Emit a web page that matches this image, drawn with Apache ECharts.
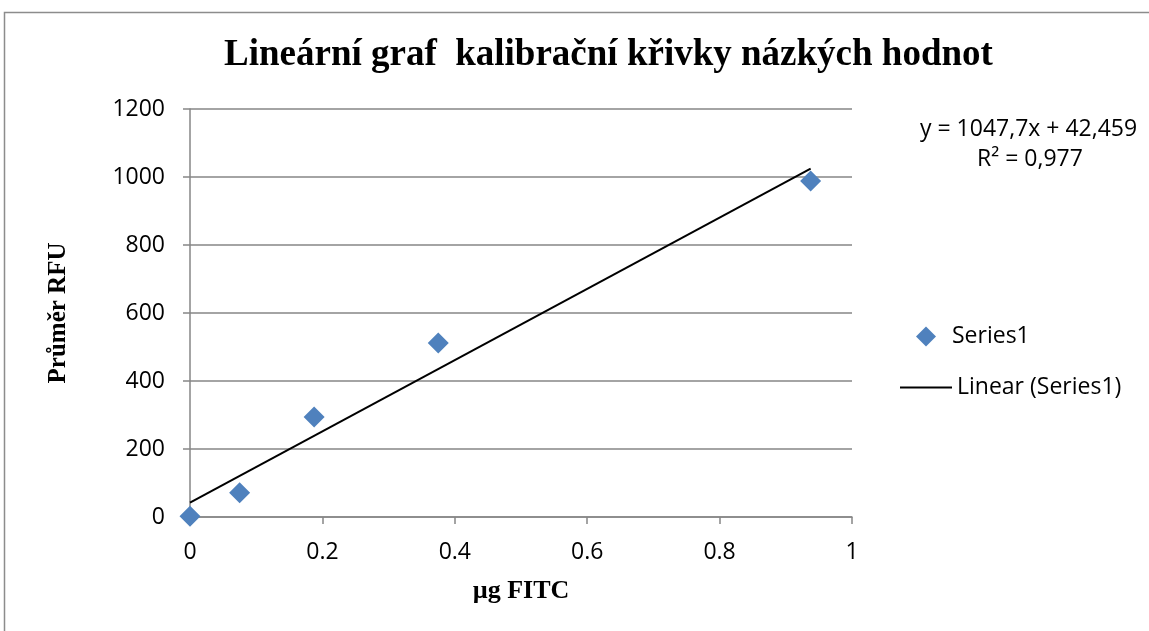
<!DOCTYPE html>
<html>
<head>
<meta charset="utf-8">
<script src="https://cdn.jsdelivr.net/npm/echarts@6/dist/echarts.min.js"></script>
<style>
  html, body { margin: 0; padding: 0; background: #fff; }
  #main { width: 1149px; height: 631px; }
</style>
</head>
<body>
<div id="main"></div>
<script>
// naměřené body
var xValues = [0, 0.075, 0.1875, 0.375, 0.9375];
var yValues = [2, 71, 294, 512, 988];
// lineární trend (z rovnice y = 1047,7x + 42,459)
var trendX = [0, 0.9375];
var trendY = [42.459, 1024.7];
var xTicks = [0, 0.2, 0.4, 0.6, 0.8, 1];
var yTicks = [0, 200, 400, 600, 800, 1000, 1200];

var pointData = [];
for (var i = 0; i < xValues.length; i++) {
    pointData.push([xValues[i], yValues[i]]);
}
var trendData = [];
for (var j = 0; j < trendX.length; j++) {
    trendData.push([trendX[j], trendY[j]]);
}

var chart = echarts.init(document.getElementById('main'));
var labelFont = '"Open Sans", sans-serif';
var serifFont = '"Liberation Serif", "DejaVu Serif", serif';

var option = {
    backgroundColor: '#fff',
    animation: false,
    title: {
        text: 'Lineární graf  kalibrační křivky názkých hodnot',
        left: 219,
        top: 32,
        textStyle: {
            fontFamily: serifFont,
            fontWeight: 'bold',
            fontSize: 37,
            color: '#000'
        }
    },
    legend: [{
        data: [{ name: 'Series1', icon: 'diamond' }],
        left: 911,
        top: 320,
        itemWidth: 20,
        itemHeight: 20,
        itemGap: 10,
        textStyle: { fontFamily: labelFont, fontSize: 23, color: '#000', padding: [0, 0, 0, 11] }
    }, {
        data: [{ name: 'Linear (Series1)', icon: 'rect' }],
        left: 895,
        top: 371,
        itemWidth: 52,
        itemHeight: 2,
        itemGap: 4,
        textStyle: { fontFamily: labelFont, fontSize: 23, color: '#000' }
    }],
    grid: {
        left: 190,
        right: 297,
        top: 109,
        bottom: 114
    },
    xAxis: {
        type: 'value',
        min: 0,
        max: 1,
        interval: 0.2,
        name: 'µg FITC',
        nameLocation: 'middle',
        nameGap: 61,
        nameTextStyle: { fontFamily: serifFont, fontWeight: 'bold', fontSize: 26, color: '#000' },
        axisLine: { lineStyle: { color: '#868686', width: 1.5 } },
        axisTick: { show: true, inside: false, length: 7, lineStyle: { color: '#868686', width: 1.5 } },
        axisLabel: {
            margin: 24,
            fontFamily: labelFont,
            fontSize: 23,
            color: '#000',
            formatter: function (v) { return String(v); }
        },
        splitLine: { show: false }
    },
    yAxis: {
        type: 'value',
        min: 0,
        max: 1200,
        interval: 200,
        name: 'Průměr RFU',
        nameLocation: 'middle',
        nameGap: 119,
        nameTextStyle: { fontFamily: serifFont, fontWeight: 'bold', fontSize: 25, color: '#000' },
        axisLine: { show: true, lineStyle: { color: '#868686', width: 1.5 } },
        axisTick: { show: true, inside: false, length: 7, lineStyle: { color: '#868686', width: 1.5 } },
        axisLabel: {
            margin: 25,
            fontFamily: labelFont,
            fontSize: 23,
            color: '#000',
            formatter: function (v) { return String(v); }
        },
        splitLine: { show: true, lineStyle: { color: '#868686', width: 1.5 } }
    },
    graphic: [{
        type: 'rect',
        shape: { x: 4.5, y: 12.5, width: 1160, height: 640 },
        style: { fill: 'none', stroke: '#8c8c8c', lineWidth: 1.5 },
        silent: true
    }, {
        type: 'text',
        left: 920,
        top: 118,
        style: {
            text: 'y = 1047,7x + 42,459',
            fontFamily: labelFont,
            fontSize: 23,
            fill: '#000'
        }
    }, {
        type: 'text',
        left: 977,
        top: 148,
        style: {
            text: 'R² = 0,977',
            fontFamily: labelFont,
            fontSize: 23,
            fill: '#000'
        }
    }],
    series: [{
        name: 'Series1',
        type: 'scatter',
        symbol: 'diamond',
        symbolSize: 21,
        itemStyle: { color: '#4F81BD', opacity: 1 },
        data: pointData,
        z: 2
    }, {
        name: 'Linear (Series1)',
        type: 'line',
        symbol: 'none',
        lineStyle: { color: '#000', width: 2 },
        itemStyle: { color: '#000' },
        data: trendData,
        z: 3
    }]
};

chart.setOption(option);
</script>
</body>
</html>
